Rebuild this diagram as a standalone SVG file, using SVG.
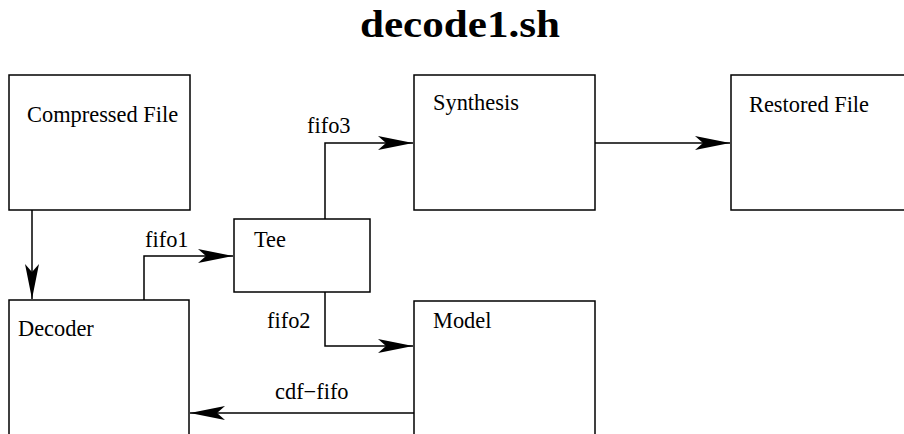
<svg xmlns="http://www.w3.org/2000/svg" width="904" height="434" viewBox="0 0 904 434">
<style>
.box{fill:#fff;stroke:#000;stroke-width:1.5}
.lbl{font-family:"Liberation Serif","Times New Roman",serif;font-size:22.4px;fill:#000}
.conn{fill:none;stroke:#000;stroke-width:1.5}
.title{font-family:"Liberation Serif","Times New Roman",serif;font-weight:bold;font-size:38px;fill:#000}
</style>
<defs>
<marker id="ah" markerUnits="userSpaceOnUse" markerWidth="40" markerHeight="20" refX="35" refY="7" orient="auto">
<path d="M35,7 L0,0 L8,7 L0,14 Z" fill="#000"/>
</marker>
</defs>
<text class="title" x="360" y="37" textLength="200" lengthAdjust="spacingAndGlyphs">decode1.sh</text>
<g id="compressed"><rect class="box" x="9" y="75" width="181" height="135"/><text class="lbl" x="27" y="122">Compressed File</text></g>
<g id="synthesis"><rect class="box" x="414" y="75" width="181" height="135"/><text class="lbl" x="433" y="110">Synthesis</text></g>
<g id="restored"><rect class="box" x="731" y="75" width="181" height="135"/><text class="lbl" x="749" y="112">Restored File</text></g>
<g id="tee"><rect class="box" x="234" y="219" width="136" height="73"/><text class="lbl" x="254" y="247">Tee</text></g>
<g id="decoder"><rect class="box" x="9" y="300" width="180" height="150"/><text class="lbl" x="18" y="336">Decoder</text></g>
<g id="model"><rect class="box" x="414" y="301" width="181" height="150"/><text class="lbl" x="433" y="328">Model</text></g>
<g id="connectors">
<path class="conn" d="M32,210 V299" marker-end="url(#ah)"/>
<path class="conn" d="M144,300 V256 H233" marker-end="url(#ah)"/>
<path class="conn" d="M325,219 V143 H413" marker-end="url(#ah)"/>
<path class="conn" d="M325,292 V346 H413" marker-end="url(#ah)"/>
<path class="conn" d="M595,143 H730" marker-end="url(#ah)"/>
<path class="conn" d="M414,413 H190" marker-end="url(#ah)"/>
<text class="lbl" x="145" y="247">fifo1</text>
<text class="lbl" x="307" y="133">fifo3</text>
<text class="lbl" x="267" y="328">fifo2</text>
<text class="lbl" x="275" y="399">cdf−fifo</text>
</g>
</svg>
